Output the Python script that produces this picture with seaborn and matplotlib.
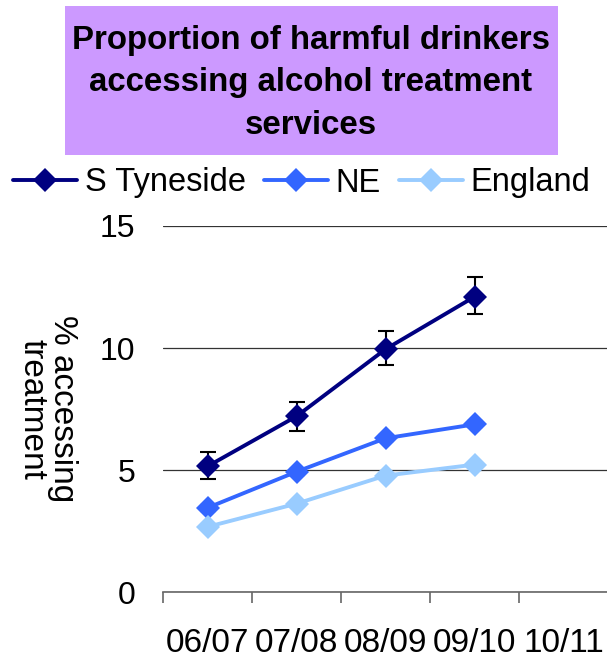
import matplotlib
matplotlib.use('Agg')
import matplotlib.pyplot as plt
import seaborn as sns
import pandas as pd
from matplotlib.patches import Rectangle

# --- data ---
years = ['06/07', '07/08', '08/09', '09/10', '10/11']
sty_vals = [5.15, 7.2, 9.95, 12.1]
sty_low = [4.65, 6.6, 9.3, 11.4]
sty_high = [5.75, 7.8, 10.7, 12.9]
ne_vals = [3.45, 4.93, 6.3, 6.87]
ne_low = [3.33, 4.81, 6.18, 6.75]
ne_high = [3.57, 5.05, 6.42, 6.99]
eng_vals = [2.67, 3.62, 4.77, 5.22]

series = {'S Tyneside': (sty_vals, '#000080'),
          'NE': (ne_vals, '#3366FF'),
          'England': (eng_vals, '#99CCFF')}

rows = []
for name, (vals, _) in series.items():
    for i, v in enumerate(vals):
        rows.append({'x': i, 'value': v, 'series': name})
df = pd.DataFrame(rows)

sns.set_theme(style='white')
plt.rcParams['font.family'] = ['Liberation Sans', 'DejaVu Sans']
plt.rcParams['text.color'] = 'black'
plt.rcParams['xtick.color'] = 'black'
plt.rcParams['ytick.color'] = 'black'
plt.rcParams['axes.labelcolor'] = 'black'

fig = plt.figure(figsize=(6.07, 6.59), dpi=100)
ax = fig.add_axes([163 / 607, 1 - 592 / 659, 445 / 607, 366 / 659])

sns.lineplot(data=df, x='x', y='value', hue='series',
             palette={k: c for k, (v, c) in series.items()},
             hue_order=list(series.keys()),
             marker='D', markersize=12, markeredgewidth=0,
             linewidth=2.8, errorbar=None, ax=ax)

# error bars (black caps)
xs = list(range(len(sty_vals)))
for vals, lo, hi in [(sty_vals, sty_low, sty_high), (ne_vals, ne_low, ne_high)]:
    err = [[v - l for v, l in zip(vals, lo)], [h - v for v, h in zip(vals, hi)]]
    ax.errorbar(xs, vals, yerr=err, fmt='none', ecolor='black',
                elinewidth=1.5, capsize=6, capthick=1.5, zorder=1)

ax.set_xlim(-0.5, 4.5)
ax.set_ylim(0, 15)
ax.set_yticks([0, 5, 10, 15])
ax.yaxis.grid(True, color='#333333', linewidth=0.9)
ax.set_axisbelow(True)
for s in ['left', 'right', 'top']:
    ax.spines[s].set_visible(False)
ax.spines['bottom'].set_color('#666666')
ax.spines['bottom'].set_linewidth(1.2)

ax.set_xticks([i - 0.5 for i in range(6)])
ax.set_xticklabels([])
ax.set_xticks(range(len(years)), minor=True)
ax.set_xticklabels(years, minor=True, fontsize=24)
ax.tick_params(axis='x', which='major', length=8, width=1.2, color='#666666',
               direction='out', bottom=True)
ax.tick_params(axis='x', which='minor', length=0, pad=26)
ax.tick_params(axis='y', length=0, labelsize=23, pad=20)

ax.set_xlabel('')
ax.set_ylabel('% accessing\ntreatment', fontsize=24, rotation=270,
              va='center', ha='center', linespacing=0.95)
ax.yaxis.set_label_coords(-0.26, 0.5)

ax.legend(loc='center', bbox_to_anchor=(0.4975, (659 - 183) / 659),
          bbox_transform=fig.transFigure, ncol=3, frameon=False,
          fontsize=23.5, handlelength=1.95, handletextpad=0.25,
          columnspacing=0.55, borderaxespad=0, borderpad=0)

# title box
fig.patches.append(Rectangle((65 / 607, 1 - 155 / 659), 493 / 607, 149 / 659,
                             transform=fig.transFigure, facecolor='#CC99FF',
                             edgecolor='none', zorder=0))
fig.text(311 / 607, 1 - 83 / 659,
         'Proportion of harmful drinkers\naccessing alcohol treatment\nservices',
         ha='center', va='center', fontsize=23.8, fontweight='bold',
         linespacing=1.48)

fig.savefig('out.png', dpi=100)
